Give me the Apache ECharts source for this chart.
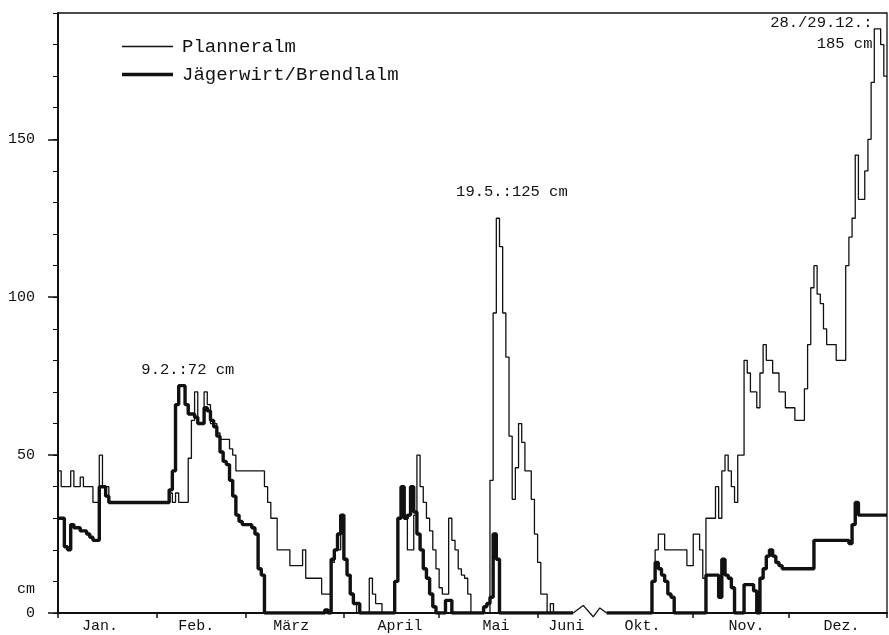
<!DOCTYPE html>
<html>
<head>
<meta charset="utf-8">
<script src="https://cdn.jsdelivr.net/npm/echarts@6/dist/echarts.min.js"></script>
<style>
  html, body { margin: 0; padding: 0; background: #fff; }
  #chart { width: 889px; height: 635px; }
</style>
</head>
<body>
<div id="chart"></div>
<script>
// Daily snow depth in cm, one value per day (Jan–early Jun, Oct–Dec)
const plannerJan = [45,40,40,40,45,40,40,43,40,40,40,35,35,50,40,40,35,35,35,35,35,35,35,35,35,35,35,35,35,35,35];
const plannerFeb = [35,35,35,35,38,35,38,35,35,35,49,61,70,60,60,70,66,60,60,57,55,55,55,52,50,45,45,45];
const plannerMar = [45,45,45,45,45,45,40,35,30,30,20,20,20,20,15,15,15,15,20,11,11,11,11,11,6,6,6,16,20,20,31];
const plannerApr = [17,12,6,3,0,0,0,0,11,6,3,3,0,0,0,0,10,30,40,30,20,20,31,50,40,35,30,26,20,14];
const plannerMai = [8,6,6,30,23,20,14,12,11,6,0,0,0,0,0,0,42,95,125,116,95,81,56,36,46,60,54,45,45,36,25];
const plannerJun = [16,6,6,0,3,0,0,0,0,0,0,0];
const plannerOkt = [0,0,0,0,0,0,0,0,0,0,0,0,0,0,0,0,0,0,10,20,25,25,20,20,20,20,20,20,20,15,15];
const plannerNov = [25,25,20,11,30,30,30,40,30,45,50,45,40,35,50,50,80,76,70,70,65,76,85,80,80,76,76,70,70,65];
const plannerDez = [65,65,61,61,61,71,85,103,110,101,98,90,85,85,85,80,80,80,110,119,125,145,131,131,140,150,168,185,185,180,170];

const jaegerJan = [30,30,21,20,28,27,27,26,26,25,24,23,23,40,40,37,35,35,35,35,35,35,35,35,35,35,35,35,35,35,35];
const jaegerFeb = [35,35,35,35,39,45,66,72,72,66,63,63,62,60,60,65,64,61,59,56,51,48,47,42,37,31,29,28];
const jaegerMar = [28,28,27,25,14,12,0,0,0,0,0,0,0,0,0,0,0,0,0,0,0,0,0,0,0,1,0,17,20,25,31];
const jaegerApr = [17,12,6,3,3,0,0,0,0,0,0,0,0,0,0,0,10,30,40,30,31,40,32,25,20,14,11,6,2,0];
const jaegerMai = [0,0,4,4,0,0,0,0,0,0,0,0,0,0,2,3,5,25,17,0,0,0,0,0,0,0,0,0,0,0,0];
const jaegerJun = [0,0,0,0,0,0,0,0,0,0,0,0];
const jaegerOkt = [0,0,0,0,0,0,0,0,0,0,0,0,0,0,0,0,0,0,10,16,14,12,10,6,5,0,0,0,0,0,0];
const jaegerNov = [0,0,0,0,12,12,12,12,5,17,12,11,8,0,0,0,9,9,9,7,0,11,14,18,20,18,16,15,14,14];
const jaegerDez = [14,14,14,14,14,14,14,14,23,23,23,23,23,23,23,23,23,23,23,22,28,35,31,31,31,31,31,31,31,31,31];

// Month axis: names, where each month label sits, month boundary ticks
const monthNames = ['Jan.', 'Feb.', 'März', 'April', 'Mai', 'Juni', 'Okt.', 'Nov.', 'Dez.'];
const monthLabelAt = [13.2, 43.5, 73.4, 107.7, 137.9, 160, 184, 216.8, 246.7];
const monthTicks = [0, 31, 59, 90, 120, 151, 200, 230, 261];
// Day position of each month's first day on the compressed time axis
const monthStart = [0, 31, 59, 90, 120, 151, 169, 200, 230];
const axisEnd = 261;
// Summer gap (mid-June to early October) marked by a zigzag on the base line
const gapFrom = 162.2, gapTo = 172.7;

const yTickLabels = [0, 50, 100, 150];
const unitLabelAt = 7.5;

function toSteps(months) {
  const pts = [];
  months.forEach((vals, m) => vals.forEach((v, d) => pts.push([monthStart[m] + d, v])));
  const last = months[months.length - 1];
  pts.push([axisEnd, last[last.length - 1]]);
  return pts;
}

const planner = toSteps([plannerJan, plannerFeb, plannerMar, plannerApr, plannerMai, plannerJun, plannerOkt, plannerNov, plannerDez]);
const jaeger = toSteps([jaegerJan, jaegerFeb, jaegerMar, jaegerApr, jaegerMai, jaegerJun, jaegerOkt, jaegerNov, jaegerDez]);

// zigzag across the gap: up, down, up, back to the base line
const w = gapTo - gapFrom;
const zigzag = [
  [gapFrom, 0], [gapFrom + w * 0.3, 2.4], [gapFrom + w * 0.6, -1.2],
  [gapFrom + w * 0.8, 1.6], [gapTo, 0]
];

const font = 'Liberation Mono';
const ink = '#111';
const thinWidth = 1.3, thickWidth = 3.4;

const chart = echarts.init(document.getElementById('chart'), null, { renderer: 'canvas' });
chart.setOption({
  animation: false,
  backgroundColor: '#fff',
  grid: {
    left: 58, right: 2, top: 13, bottom: 22,
    show: true, borderColor: ink, borderWidth: 1.3, backgroundColor: 'transparent'
  },
  legend: {
    data: [
      { name: 'Planneralm', icon: 'path://M0,0H51V' + thinWidth + 'H0Z' },
      { name: 'Jägerwirt/Brendlalm', icon: 'path://M0,0H51V' + thickWidth + 'H0Z' }
    ],
    orient: 'vertical',
    left: 122, top: 37, padding: 0,
    itemWidth: 51, itemHeight: 14, itemGap: 9,
    symbolKeepAspect: true,
    selectedMode: false,
    textStyle: { fontFamily: font, fontSize: 19, color: ink, padding: [0, 0, 0, 4] }
  },
  xAxis: {
    type: 'value', min: 0, max: axisEnd,
    axisLine: { show: true, lineStyle: { color: ink, width: 2 } },
    axisTick: { show: true, customValues: monthTicks, length: 5, inside: false, lineStyle: { color: ink, width: 1.5 } },
    axisLabel: {
      show: true, customValues: monthLabelAt, margin: 6,
      fontFamily: font, fontSize: 15, color: ink,
      formatter: (v) => monthNames[monthLabelAt.indexOf(v)] || ''
    },
    splitLine: { show: false }
  },
  yAxis: [
    {
      type: 'value', min: 0, max: 190, interval: 10,
      axisLine: { show: true, lineStyle: { color: ink, width: 2 } },
      axisTick: { show: true, length: 5, lineStyle: { color: ink, width: 1 } },
      axisLabel: {
        show: true, customValues: [0, unitLabelAt, 50, 100, 150], margin: 23,
        fontFamily: font, fontSize: 15, color: ink,
        formatter: (v) => (v === unitLabelAt ? 'cm' : String(v))
      },
      splitLine: { show: false }
    },
    {
      type: 'value', min: 0, max: 190, position: 'left',
      axisLine: { show: false },
      axisTick: { show: true, customValues: yTickLabels, length: 10, lineStyle: { color: ink, width: 1.5 } },
      axisLabel: { show: false },
      splitLine: { show: false }
    }
  ],
  series: [
    {
      name: 'Planneralm', type: 'line', step: 'end', data: planner,
      symbol: 'none', lineStyle: { color: ink, width: thinWidth }, itemStyle: { color: ink }, z: 2,
      markPoint: {
        symbol: 'circle', symbolSize: 0, silent: true,
        label: { fontFamily: font, fontSize: 15.5, color: ink },
        data: [
          {
            coord: [monthStart[4] + 18.5, plannerMai[18]],
            label: { position: 'top', distance: 18, offset: [14, 0],
                     formatter: '19.5.:' + plannerMai[18] + ' cm' }
          },
          {
            coord: [monthStart[8] + 28, plannerDez[27]],
            label: { position: 'left', distance: 5, offset: [0, 5], align: 'right', lineHeight: 21,
                     formatter: '28./29.12.:\n' + plannerDez[27] + ' cm' }
          }
        ]
      }
    },
    {
      name: 'Jägerwirt/Brendlalm', type: 'line', step: 'end', data: jaeger,
      symbol: 'none', lineStyle: { color: ink, width: thickWidth }, itemStyle: { color: ink }, z: 2,
      markPoint: {
        symbol: 'circle', symbolSize: 0, silent: true,
        label: { fontFamily: font, fontSize: 15.5, color: ink },
        data: [
          {
            coord: [monthStart[1] + 8, jaegerFeb[8]],
            label: { position: 'top', distance: 8, offset: [6, 0],
                     formatter: '9.2.:' + jaegerFeb[8] + ' cm' }
          }
        ]
      }
    },
    {
      // clears the base line under the gap marker
      type: 'line', data: [[gapFrom, 0], [gapTo, 0]], symbol: 'none', silent: true, clip: false,
      lineStyle: { color: '#fff', width: 6 }, z: 3
    },
    {
      type: 'line', data: zigzag, symbol: 'none', silent: true, clip: false,
      lineStyle: { color: ink, width: 1.3 }, z: 4
    }
  ]
});
</script>
</body>
</html>
